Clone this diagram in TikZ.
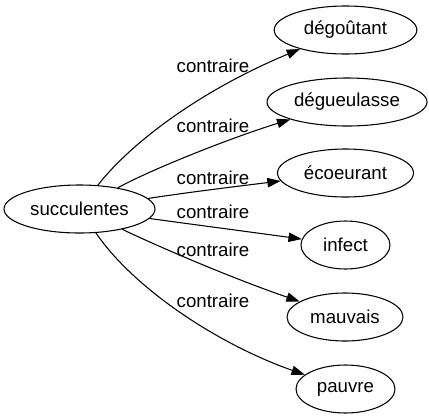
\documentclass[tikz,border=0pt]{standalone}
\usepackage{fontspec}
\setmainfont{Liberation Sans}
\usetikzlibrary{shapes.geometric,arrows.meta}
\begin{document}
\begin{tikzpicture}[x=0.75pt,y=-0.75pt,
  word/.style={ellipse,draw,line width=0.8pt,inner sep=0pt,minimum height=36pt,font=\fontsize{14pt}{16pt}\selectfont},
  rel/.style={draw,line width=0.8pt,-{Triangle[length=10pt,width=7pt]}},
  lab/.style={font=\fontsize{14pt}{16pt}\selectfont,inner sep=0pt}]
\useasboundingbox (0,0) rectangle (429,419);
% nodes
\node[word,minimum width=113.25pt] (succ) at (79.5,209) {succulentes};
\node[word,minimum width=107pt] (n1) at (345.5,30) {dégoûtant};
\node[word,minimum width=120pt] (n2) at (347,102) {dégueulasse};
\node[word,minimum width=102pt] (n3) at (345.5,173) {écoeurant};
\node[word,minimum width=66.75pt] (n4) at (345.5,245) {infect};
\node[word,minimum width=87pt] (n5) at (345,317) {mauvais};
\node[word,minimum width=74.25pt] (n6) at (345.5,389) {pauvre};
% edges
\draw[rel] (succ) .. controls (125,150) and (190,95) .. (n1);
\draw[rel] (succ) .. controls (150,170) and (230,138) .. (n2);
\draw[rel] (succ) .. controls (190,192) and (240,186) .. (n3);
\draw[rel] (succ) .. controls (190,224) and (250,232) .. (n4);
\draw[rel] (succ) .. controls (170,252) and (240,281) .. (n5);
\draw[rel] (succ) .. controls (135,290) and (220,345) .. (n6);
% labels
\node[lab] (l1) at (213,66) {contraire};
\node[lab] (l2) at (213,126) {contraire};
\node[lab] (l3) at (213,178) {contraire};
\node[lab] (l4) at (213,212) {contraire};
\node[lab] (l5) at (213,250) {contraire};
\node[lab] (l6) at (213,301) {contraire};
\end{tikzpicture}
\end{document}
